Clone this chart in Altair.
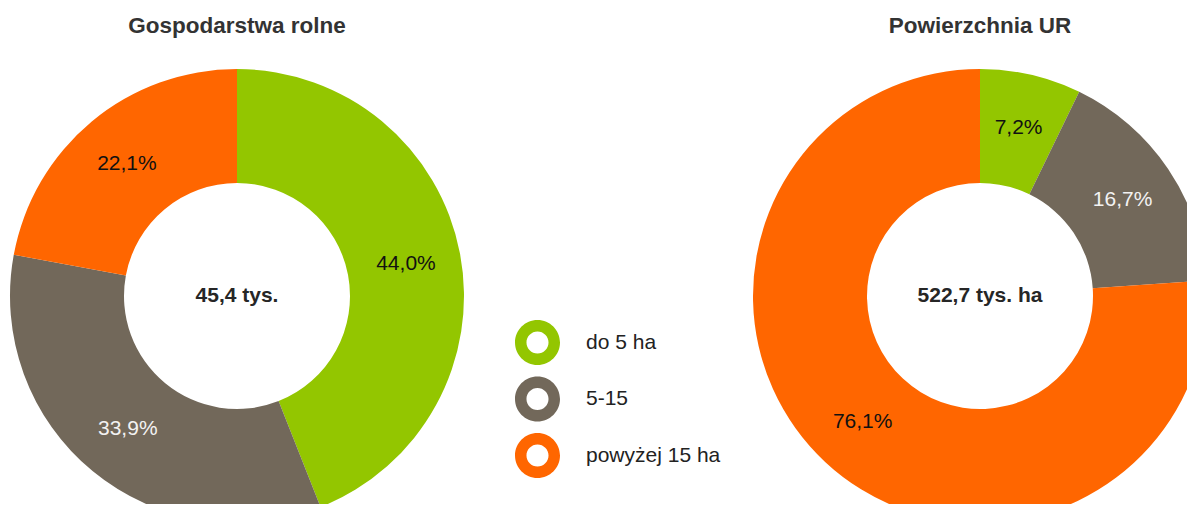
import altair as alt
import pandas as pd

categories = ["do 5 ha", "5-15", "powyżej 15 ha"]
farms_pct = [44.0, 33.9, 22.1]
area_pct = [7.2, 16.7, 76.1]
colors = ["#93C600", "#72685A", "#FF6600"]
label_colors = ["#111111", "#F2F2F2", "#111111"]
titles = ["Gospodarstwa rolne", "Powierzchnia UR"]
totals = ["45,4 tys.", "522,7 tys. ha"]

FONT = "Liberation Sans"
RING = ("M-1,0A1,1,0,1,1,1,0A1,1,0,1,1,-1,0Z"
        "M-0.49,0A0.49,0.49,0,1,0,0.49,0A0.49,0.49,0,1,0,-0.49,0Z")


def fmt(v):
    return f"{v:.1f}".replace(".", ",") + "%"


def donut(values, title, total, width, legend):
    df = pd.DataFrame({
        "kategoria": categories,
        "idx": list(range(len(categories))),
        "value": values,
        "label": [fmt(v) for v in values],
        "lc": label_colors,
    })
    base = alt.Chart(df)
    arc = base.mark_arc(innerRadius=113, outerRadius=227).encode(
        theta=alt.Theta("value:Q", stack=True),
        order=alt.Order("idx:Q"),
        color=alt.Color("kategoria:N",
                        scale=alt.Scale(domain=categories, range=colors),
                        legend=legend),
    )
    txt = base.mark_text(radius=172, fontSize=21, font=FONT).encode(
        theta=alt.Theta("value:Q", stack=True),
        order=alt.Order("idx:Q"),
        text="label:N",
        color=alt.Color("lc:N", scale=None),
    )
    center = alt.Chart(pd.DataFrame({"t": [total]})).mark_text(
        fontSize=21, fontWeight="bold", font=FONT, color="#262626"
    ).encode(text="t:N")
    return alt.layer(arc, txt, center).properties(
        width=width, height=454,
        title=alt.TitleParams(title, fontSize=22.5, fontWeight="bold", font=FONT,
                              color="#333333", anchor="middle", offset=32),
    )


legend = alt.Legend(
    title=None, orient="none", legendX=507, legendY=251,
    symbolType=RING, symbolSize=2025, symbolStrokeWidth=0,
    labelFontSize=21, labelFont=FONT, labelColor="#222222",
    labelOffset=26, rowPadding=11.5, labelLimit=300,
)

left = donut(farms_pct, titles[0], totals[0], 458, legend)
right = donut(area_pct, titles[1], totals[1], 454, None)

chart = alt.hconcat(left, right, spacing=287).properties(
    padding={"left": 0, "top": 6, "right": -20, "bottom": -19},
    background="white",
).configure_view(stroke=None)

chart.save("out.html", embed_options={"renderer": "svg", "actions": False})
